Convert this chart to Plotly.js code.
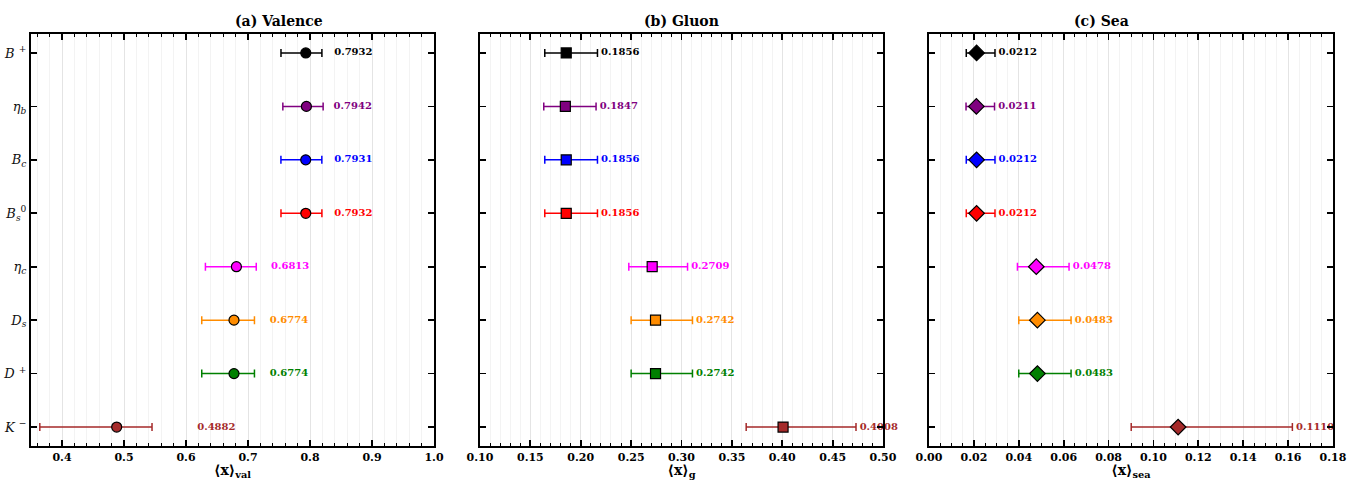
<!DOCTYPE html>
<html>
<head>
<meta charset="utf-8">
<script src="https://cdn.plot.ly/plotly-3.0.1.min.js"></script>
<style>html,body{margin:0;padding:0;background:#fff;}#chart{width:1362px;height:480px;}</style>
</head>
<body>
<div id="chart"></div>
<script>
// ---- data ----
const mesonLabels = ['<i>B</i> <sup>+</sup>', '<i>η</i><sub><i>b</i></sub>', '<i>B</i><sub><i>c</i></sub>', '<i>B</i><sub><i>s</i></sub><sup>0</sup>', '<i>η</i><sub><i>c</i></sub>', '<i>D</i><sub><i>s</i></sub>', '<i>D</i> <sup>+</sup>', '<i>K</i> <sup>−</sup>'];
const mesonColors = ['#000000', '#800080', '#0000ff', '#ff0000', '#ff00ff', '#ff8c00', '#008000', '#a52a2a'];

const valVals = [0.7932, 0.7942, 0.7931, 0.7932, 0.6813, 0.6774, 0.6774, 0.4882];
const valLo   = [0.040, 0.038, 0.040, 0.040, 0.050, 0.052, 0.052, 0.124];
const valHi   = [0.026, 0.027, 0.026, 0.026, 0.032, 0.033, 0.033, 0.057];

const gluVals = [0.1856, 0.1847, 0.1856, 0.1856, 0.2709, 0.2742, 0.2742, 0.4008];
const gluLo   = [0.0213, 0.0214, 0.0213, 0.0213, 0.0232, 0.0242, 0.0242, 0.0366];
const gluHi   = [0.0310, 0.0305, 0.0310, 0.0310, 0.0351, 0.0367, 0.0367, 0.0724];

const seaVals = [0.0212, 0.0211, 0.0212, 0.0212, 0.0478, 0.0483, 0.0483, 0.1110];
const seaLo   = [0.0046, 0.0046, 0.0046, 0.0046, 0.0084, 0.0083, 0.0083, 0.0209];
const seaHi   = [0.0082, 0.0081, 0.0082, 0.0082, 0.0146, 0.0150, 0.0150, 0.0509];

const panelTitles = ['(a) Valence', '(b) Gluon', '(c) Sea'];
const axisTitles = ['⟨x⟩<sub>val</sub>', '⟨x⟩<sub>g</sub>', '⟨x⟩<sub>sea</sub>'];

// ---- build ----
const W = 1362;
const serif = 'DejaVu Serif, serif';
const panels = [
  {vals: valVals, lo: valLo, hi: valHi, sym: 'circle', range: [0.35, 1.0], dtick: 0.1, minor: 0.02, fmt: '.1f', px: [31, 434]},
  {vals: gluVals, lo: gluLo, hi: gluHi, sym: 'square', range: [0.10, 0.50], dtick: 0.05, minor: 0.01, fmt: '.2f', px: [480, 883]},
  {vals: seaVals, lo: seaLo, hi: seaHi, sym: 'diamond', range: [0.0, 0.18], dtick: 0.02, minor: 0.005, fmt: '.2f', px: [929, 1333]}
];
const n = mesonLabels.length;
const yPos = mesonLabels.map((_, i) => n - 1 - i);

const traces = [];
const annotations = [];
const layout = {
  width: W, height: 480,
  margin: {l: 0, r: 0, t: 34, b: 34},
  paper_bgcolor: '#fff', plot_bgcolor: '#fff',
  showlegend: false,
  font: {family: serif, color: '#000'},
  annotations: annotations
};

panels.forEach((p, k) => {
  const xa = k === 0 ? 'x' : 'x' + (k + 1);
  const ya = k === 0 ? 'y' : 'y' + (k + 1);
  const span = p.range[1] - p.range[0];
  for (let i = 0; i < n; i++) {
    traces.push({
      type: 'scatter', mode: 'markers', xaxis: xa, yaxis: ya,
      x: [p.vals[i]], y: [yPos[i]],
      marker: {symbol: p.sym, size: p.sym === 'diamond' ? 12 : 10, color: mesonColors[i], line: {color: '#000', width: 1.2}},
      error_x: {type: 'data', symmetric: false, array: [p.hi[i]], arrayminus: [p.lo[i]], color: mesonColors[i], thickness: 1.5, width: 4},
      hoverinfo: 'skip'
    });
  }
  // value labels as a text trace
  traces.push({
    type: 'scatter', mode: 'text', xaxis: xa, yaxis: ya,
    x: p.vals.map((v, i) => v + Math.max(p.lo[i], p.hi[i]) + 0.009 * span),
    y: yPos,
    text: p.vals.map(v => '<b>' + v.toFixed(4) + '</b>'),
    textposition: 'middle right',
    textfont: {family: serif, size: 10, color: mesonColors},
    cliponaxis: false, hoverinfo: 'skip'
  });
  const d0 = p.px[0] / W, d1 = p.px[1] / W;
  annotations.push({
    xref: 'paper', yref: 'paper', x: (d0 + d1) / 2, y: 1, yanchor: 'bottom', yshift: 3,
    text: '<b>' + panelTitles[k] + '</b>', showarrow: false,
    font: {family: serif, size: 14, color: '#000'}
  });
  layout[k === 0 ? 'xaxis' : 'xaxis' + (k + 1)] = {
    domain: [d0, d1], anchor: ya, range: p.range,
    dtick: p.dtick, tick0: 0, tickformat: p.fmt,
    ticks: 'inside', ticklen: 6, tickwidth: 1.8, tickcolor: '#000',
    showline: true, linecolor: '#000', linewidth: 2, mirror: 'ticks',
    showgrid: true, gridcolor: '#e4e4e4', gridwidth: 1, zeroline: false,
    minor: {dtick: p.minor, tick0: 0, ticks: 'inside', ticklen: 3, tickwidth: 1, tickcolor: '#000', showgrid: true, gridcolor: '#f3f3f3', gridwidth: 1},
    tickfont: {family: serif, size: 11, color: '#000', weight: 'bold'},
    ticklabelstandoff: 0,
    title: {text: '<b>' + axisTitles[k] + '</b>', font: {family: serif, size: 14, color: '#000'}, standoff: 3},
    automargin: false, fixedrange: true
  };
  layout[k === 0 ? 'yaxis' : 'yaxis' + (k + 1)] = {
    domain: [0, 1], anchor: xa, range: [-0.355, n - 1 + 0.355],
    tickvals: yPos, ticktext: mesonLabels, showticklabels: k === 0,
    ticks: 'inside', ticklen: 6, tickwidth: 1.8, tickcolor: '#000',
    showline: true, linecolor: '#000', linewidth: 2, mirror: 'ticks',
    showgrid: false, zeroline: false,
    tickfont: {family: serif, size: 13, color: '#111'},
    automargin: false, fixedrange: true
  };
});

Plotly.newPlot('chart', traces, layout, {staticPlot: true, displayModeBar: false});
</script>
</body>
</html>
